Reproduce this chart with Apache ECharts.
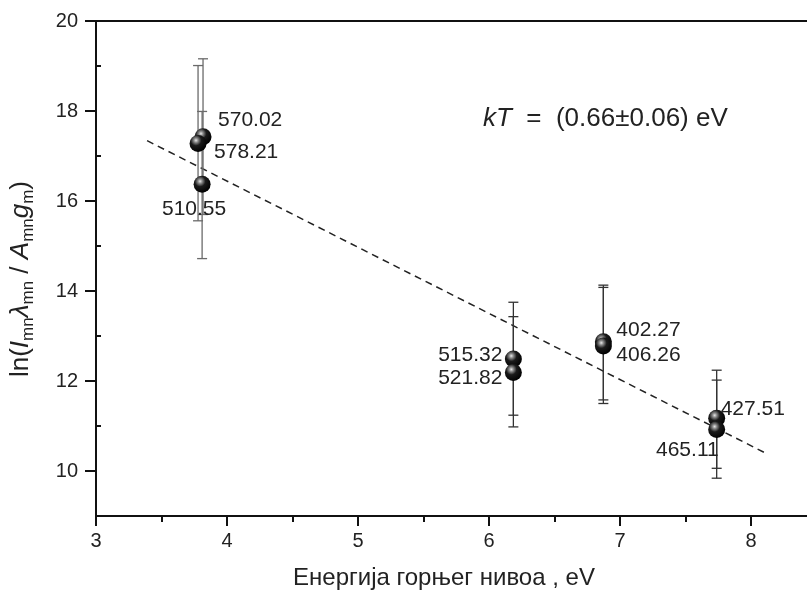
<!DOCTYPE html>
<html>
<head>
<meta charset="utf-8">
<script src="https://cdn.jsdelivr.net/npm/echarts@6/dist/echarts.min.js"></script>
<style>
html,body{margin:0;padding:0;background:#fff;}
#c{width:807px;height:590px;}
</style>
</head>
<body>
<div id="c"></div>
<script>
// ---- data ----
var lineNames = ['570.02', '578.21', '510.55', '515.32', '521.82', '402.27', '406.26', '427.51', '465.11'];
var energy    = [3.817, 3.779, 3.81, 6.186, 6.186, 6.873, 6.873, 7.738, 7.738];
var lnValue   = [17.43, 17.28, 16.37, 12.49, 12.19, 12.87, 12.78, 11.17, 10.92];
var errLow    = [15.70, 15.56, 14.72, 11.24, 10.98, 11.58, 11.50, 10.06, 9.84];
var errHigh   = [19.16, 19.01, 17.99, 13.75, 13.43, 14.13, 14.08, 12.24, 12.02];
var fitX = [3.39, 8.13];
var fitY = [17.34, 10.37];
var xTicks = [3, 4, 5, 6, 7, 8];
var yTicks = [10, 12, 14, 16, 18, 20];
var yMinorTicks = [11, 13, 15, 17, 19];
var xTitle = 'Енергија горњег нивоа , eV';
var kTText = '(0.66\u00b10.06) eV';

// ---- label placement (layout only) ----
var labelPlace = {
  '570.02': {align: 'left', offset: [15, -16]},
  '578.21': {align: 'left', offset: [16, 9]},
  '510.55': {align: 'center', offset: [-8, 25]},
  '515.32': {align: 'right', offset: [-11, -4]},
  '521.82': {align: 'right', offset: [-11, 6]},
  '402.27': {align: 'left', offset: [13, -12]},
  '406.26': {align: 'left', offset: [13, 9]},
  '427.51': {align: 'left', offset: [4, -9]},
  '465.11': {align: 'right', offset: [2, 21]}
};
var barColor = ['#6a6a6a', '#6a6a6a', '#6a6a6a', '#333', '#333', '#333', '#333', '#333', '#333'];

var FONT = 'Liberation Sans, Arial, sans-serif';

var pts = lineNames.map(function (n, i) {
  var p = labelPlace[n];
  return {
    value: [energy[i], lnValue[i]],
    name: n,
    label: {show: true, position: 'inside', align: p.align, verticalAlign: 'middle', offset: p.offset}
  };
});
var bars = lineNames.map(function (n, i) { return [energy[i], errLow[i], errHigh[i], i]; });

var sphere = {
  type: 'radial', x: 0.38, y: 0.32, r: 0.7,
  colorStops: [
    {offset: 0, color: '#e8e8e8'},
    {offset: 0.18, color: '#8a8a8a'},
    {offset: 0.45, color: '#1a1a1a'},
    {offset: 1, color: '#000'}
  ]
};

var chart = echarts.init(document.getElementById('c'), null, {renderer: 'canvas'});
chart.setOption({
  animation: false,
  backgroundColor: '#fff',
  grid: {left: 96, top: 21, width: 720.5, height: 495, containLabel: false, outerBoundsMode: 'none'},
  xAxis: [{
    type: 'value', min: 3, max: 8.5, interval: 1,
    axisLine: {show: true, onZero: false, lineStyle: {color: '#111', width: 2}},
    axisTick: {show: true, inside: false, length: 10, lineStyle: {color: '#111', width: 2}},
    minorTick: {show: true, splitNumber: 2, length: 6, lineStyle: {color: '#111', width: 2}},
    axisLabel: {fontFamily: FONT, fontSize: 20, color: '#222', margin: 15,
      formatter: function (v) { return xTicks.indexOf(v) >= 0 ? String(v) : ''; }},
    splitLine: {show: false}
  }, {
    type: 'value', min: 3, max: 8.5, position: 'top',
    axisLine: {show: true, onZero: false, lineStyle: {color: '#111', width: 2}},
    axisTick: {show: false}, axisLabel: {show: false}, splitLine: {show: false}
  }],
  yAxis: [{
    type: 'value', min: 9, max: 20,
    axisLine: {show: true, onZero: false, lineStyle: {color: '#111', width: 2}},
    axisTick: {show: true, inside: false, length: 11, customValues: yTicks, lineStyle: {color: '#111', width: 2}},
    axisLabel: {fontFamily: FONT, fontSize: 20, color: '#222', margin: 18, customValues: yTicks},
    splitLine: {show: false}
  }, {
    type: 'value', min: 9, max: 20, position: 'left',
    axisLine: {show: false},
    axisTick: {show: true, inside: true, length: 5, customValues: yMinorTicks, lineStyle: {color: '#111', width: 2}},
    axisLabel: {show: false}, splitLine: {show: false}
  }],
  graphic: [{
    type: 'text', x: 483, y: 119,
    style: {
      text: '{i|kT}  =  ' + kTText,
      font: '26px ' + FONT, fill: '#222', align: 'left', verticalAlign: 'middle',
      rich: {
        i: {fontFamily: FONT, fontSize: 26, fontStyle: 'italic', fill: '#222'}
      }
    }
  }, {
    type: 'text', x: 444, y: 578,
    style: {
      text: xTitle, font: '24px ' + FONT, fill: '#222', align: 'center', verticalAlign: 'middle'
    }
  }, {
    type: 'text', x: 21, y: 279, rotation: Math.PI / 2,
    style: {
      text: '{t|ln(}{i|I}{s|mn}{i|\u03bb}{s|mn}{t| / }{i|A}{s|mn}{i|g}{s|m}{t|)}',
      font: '26px ' + FONT, fill: '#222', align: 'center', verticalAlign: 'middle',
      rich: {
        t: {fontFamily: FONT, fontSize: 26, fill: '#222'},
        i: {fontFamily: FONT, fontSize: 26, fontStyle: 'italic', fill: '#222'},
        s: {fontFamily: FONT, fontSize: 17, fill: '#222', padding: [15, 0, 0, 0]}
      }
    }
  }],
  series: [{
    type: 'line', xAxisIndex: 0, yAxisIndex: 0,
    data: fitX.map(function (x, i) { return [x, fitY[i]]; }),
    showSymbol: false, symbol: 'none', z: 1,
    lineStyle: {color: '#222', width: 1.5, type: [7, 5]}
  }, {
    type: 'custom', xAxisIndex: 0, yAxisIndex: 0, z: 2,
    data: bars,
    renderItem: function (params, api) {
      var x = api.value(0), lo = api.value(1), hi = api.value(2), k = api.value(3);
      var pLo = api.coord([x, lo]), pHi = api.coord([x, hi]);
      var w = 5;
      var st = {stroke: barColor[k], lineWidth: 1.3};
      return {
        type: 'group',
        children: [
          {type: 'line', shape: {x1: pLo[0], y1: pLo[1], x2: pHi[0], y2: pHi[1]}, style: st},
          {type: 'line', shape: {x1: pLo[0] - w, y1: pLo[1], x2: pLo[0] + w, y2: pLo[1]}, style: st},
          {type: 'line', shape: {x1: pHi[0] - w, y1: pHi[1], x2: pHi[0] + w, y2: pHi[1]}, style: st}
        ]
      };
    }
  }, {
    type: 'scatter', xAxisIndex: 0, yAxisIndex: 0, z: 3,
    symbol: 'circle', symbolSize: 17,
    itemStyle: {color: sphere, opacity: 1},
    label: {show: true, formatter: '{b}', fontFamily: FONT, fontSize: 21, color: '#222'},
    data: pts
  }]
});
</script>
</body>
</html>
